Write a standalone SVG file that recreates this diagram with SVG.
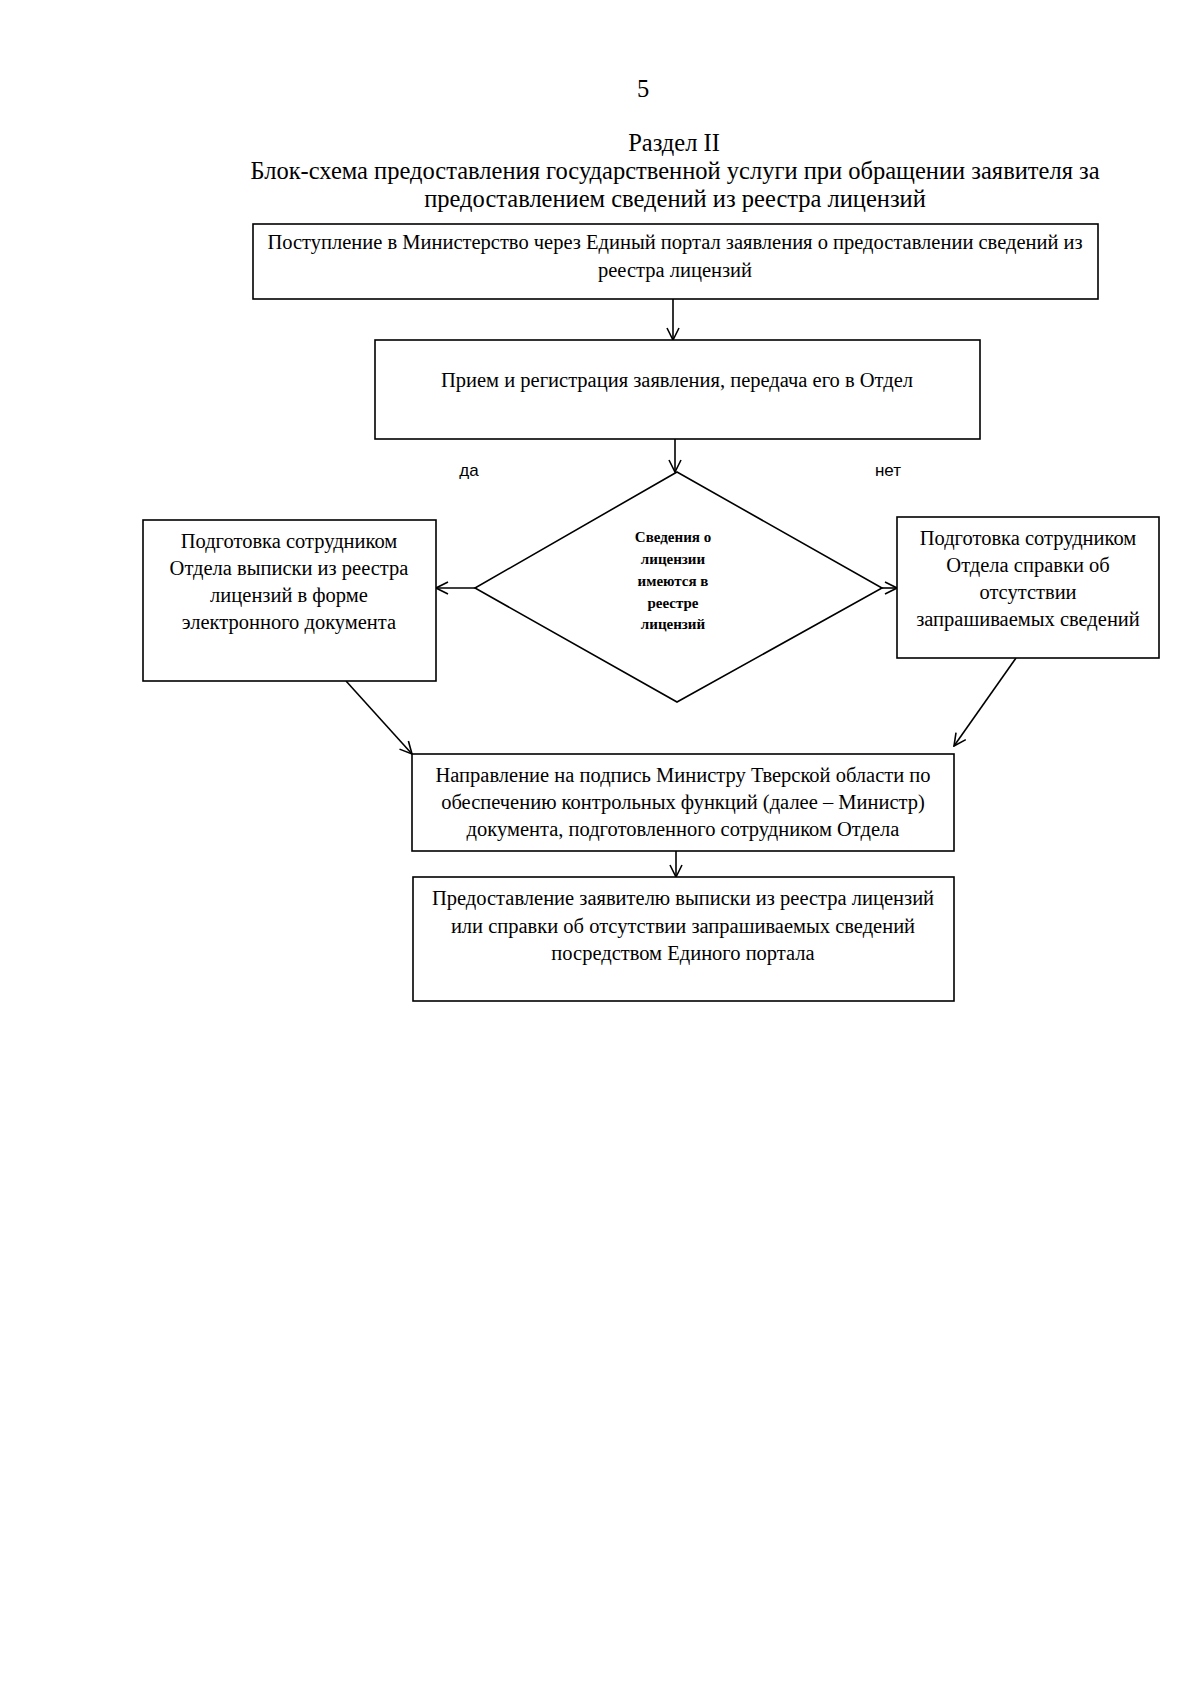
<svg xmlns="http://www.w3.org/2000/svg" width="1200" height="1697" viewBox="0 0 1200 1697">
<style>
.t{font-family:"Liberation Serif","Times New Roman",serif;font-size:20.5px;fill:#000;text-anchor:middle}
.h{font-family:"Liberation Serif","Times New Roman",serif;font-size:24.5px;fill:#000;text-anchor:middle}
.s{font-family:"Liberation Serif","Times New Roman",serif;font-size:15px;font-weight:bold;fill:#000;text-anchor:middle}
.l{font-family:"Liberation Sans","Arial",sans-serif;font-size:17px;fill:#000;text-anchor:middle}
.b{fill:#fff;stroke:#000;stroke-width:1.6}
.c{fill:none;stroke:#000;stroke-width:1.6}
</style>
<defs>
<marker id="a" viewBox="0 0 14 14" refX="13" refY="7" markerWidth="14" markerHeight="14" markerUnits="userSpaceOnUse" orient="auto">
<path d="M1,1 L13,7 L1,13" fill="none" stroke="#000" stroke-width="1.6"/>
</marker>
</defs>
<rect width="1200" height="1697" fill="#fff"/>
<text class="h" x="643" y="97">5</text>
<text class="h" x="674" y="151">Раздел II</text>
<text class="h" x="675" y="179">Блок-схема предоставления государственной услуги при обращении заявителя за</text>
<text class="h" x="675" y="207">предоставлением сведений из реестра лицензий</text>

<g id="connectors">
<line class="c" x1="673" y1="299" x2="673" y2="340" marker-end="url(#a)"/>
<line class="c" x1="675" y1="439" x2="675" y2="472" marker-end="url(#a)"/>
<line class="c" x1="475" y1="588" x2="436" y2="588" marker-end="url(#a)"/>
<line class="c" x1="882" y1="588" x2="897" y2="588" marker-end="url(#a)"/>
<line class="c" x1="346" y1="681" x2="412" y2="754" marker-end="url(#a)"/>
<line class="c" x1="1016" y1="658" x2="954" y2="746" marker-end="url(#a)"/>
<line class="c" x1="676" y1="851" x2="676" y2="877" marker-end="url(#a)"/>
<text class="l" x="469" y="476">да</text>
<text class="l" x="888" y="476">нет</text>
</g>

<g id="n1">
<rect class="b" x="253" y="224" width="845" height="75"/>
<text class="t" x="675" y="249">Поступление в Министерство через Единый портал заявления о предоставлении сведений из</text>
<text class="t" x="675" y="277">реестра лицензий</text>
</g>
<g id="n2">
<rect class="b" x="375" y="340" width="605" height="99"/>
<text class="t" x="677" y="387">Прием и регистрация заявления, передача его в Отдел</text>
</g>
<g id="n3">
<polygon class="b" points="677,472 882,588 677,702 475,588"/>
<text class="s" x="673" y="542">Сведения о</text>
<text class="s" x="673" y="564">лицензии</text>
<text class="s" x="673" y="586">имеются в</text>
<text class="s" x="673" y="608">реестре</text>
<text class="s" x="673" y="629">лицензий</text>
</g>
<g id="n4">
<rect class="b" x="143" y="520" width="293" height="161"/>
<text class="t" x="289" y="548">Подготовка сотрудником</text>
<text class="t" x="289" y="575">Отдела выписки из реестра</text>
<text class="t" x="289" y="602">лицензий в форме</text>
<text class="t" x="289" y="629">электронного документа</text>
</g>
<g id="n5">
<rect class="b" x="897" y="517" width="262" height="141"/>
<text class="t" x="1028" y="545">Подготовка сотрудником</text>
<text class="t" x="1028" y="572">Отдела справки об</text>
<text class="t" x="1028" y="599">отсутствии</text>
<text class="t" x="1028" y="626">запрашиваемых сведений</text>
</g>
<g id="n6">
<rect class="b" x="412" y="754" width="542" height="97"/>
<text class="t" x="683" y="782">Направление на подпись Министру Тверской области по</text>
<text class="t" x="683" y="809">обеспечению контрольных функций (далее – Министр)</text>
<text class="t" x="683" y="836">документа, подготовленного сотрудником Отдела</text>
</g>
<g id="n7">
<rect class="b" x="413" y="877" width="541" height="124"/>
<text class="t" x="683" y="905">Предоставление заявителю выписки из реестра лицензий</text>
<text class="t" x="683" y="933">или справки об отсутствии запрашиваемых сведений</text>
<text class="t" x="683" y="960">посредством Единого портала</text>
</g>
</svg>
